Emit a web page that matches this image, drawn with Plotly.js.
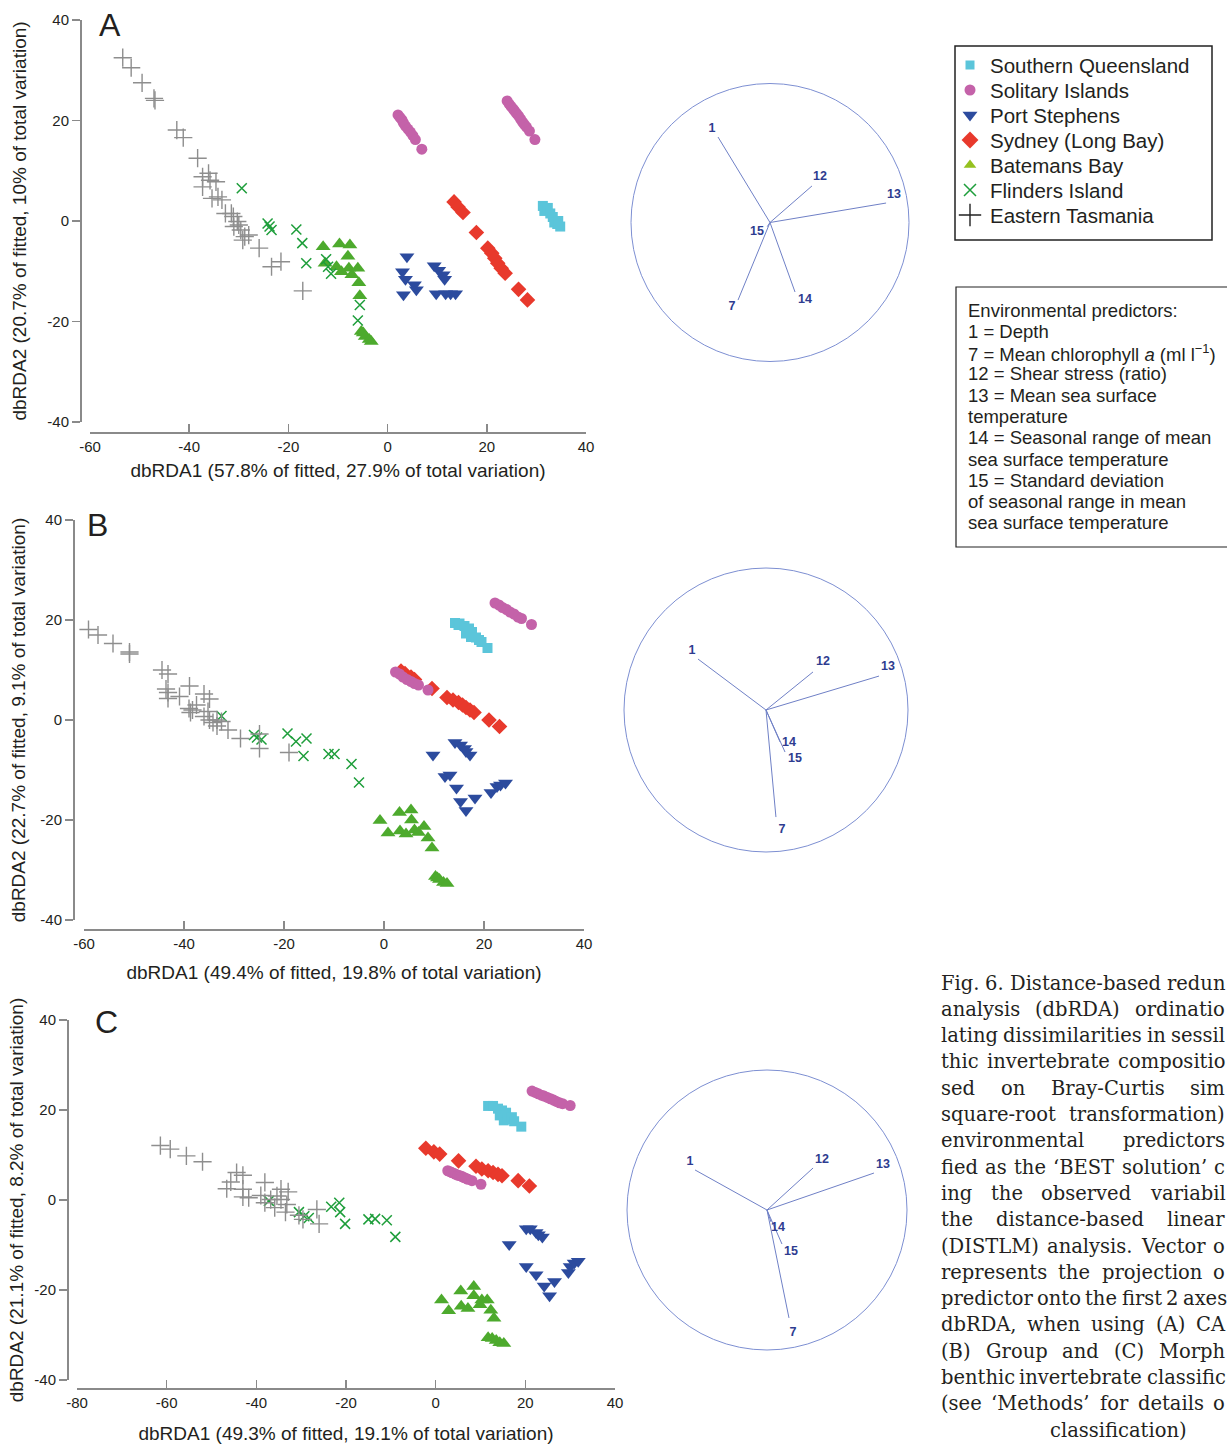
<!DOCTYPE html>
<html><head><meta charset="utf-8">
<script src="https://cdn.plot.ly/plotly-3.0.1.min.js"></script>
<style>html,body{margin:0;padding:0;background:#fff}#chart{width:1227px;height:1444px}</style>
</head><body><div id="chart"></div>
<script>
// ---------------- DATA ----------------
const groupNames = ['Southern Queensland','Solitary Islands','Port Stephens','Sydney (Long Bay)','Batemans Bay','Flinders Island','Eastern Tasmania'];

// Panel A (CAAB)
const A_SQ_X = [31.3, 31.6, 32.3, 32.8, 33.3, 33.6, 34.2, 34.8, 34.4];
const A_SQ_Y = [3.0, 2.0, 2.6, 1.5, 0.8, -0.3, -0.6, -1.1, 0.0];
const A_SI_X = [2.1, 2.5, 2.9, 3.2, 3.6, 4.1, 4.6, 5.1, 5.6, 6.9, 24.1, 24.5, 24.9, 25.3, 25.6, 26.0, 26.4, 26.8, 27.2, 27.6, 28.0, 28.6, 29.7];
const A_SI_Y = [21.1, 20.6, 20.1, 19.5, 18.9, 18.3, 17.7, 17.0, 16.2, 14.3, 23.9, 23.3, 22.8, 22.3, 21.9, 21.4, 20.9, 20.3, 19.7, 19.2, 18.7, 17.9, 16.2];
const A_PS_X = [3.9, 3.0, 3.6, 5.4, 5.8, 3.2, 9.4, 10.3, 11.2, 11.5, 9.8, 11.7, 12.7, 13.7];
const A_PS_Y = [-7.1, -10.1, -11.6, -12.7, -13.7, -14.7, -8.9, -9.8, -10.7, -11.6, -14.5, -14.5, -14.5, -14.5];
const A_SY_X = [13.4, 14.2, 15.2, 17.9, 20.2, 21.0, 21.6, 22.2, 22.9, 23.7, 26.4, 28.2];
const A_SY_Y = [3.8, 2.8, 1.7, -2.3, -5.4, -6.4, -7.4, -8.4, -9.4, -10.4, -13.6, -15.7];
const A_BB_X = [-13.0, -12.6, -9.7, -7.6, -8.0, -10.3, -9.3, -7.8, -7.2, -6.0, -5.8, -5.6, -5.3, -4.9, -4.5, -3.7, -3.3];
const A_BB_Y = [-5.1, -8.4, -4.6, -4.8, -7.0, -9.1, -10.1, -9.4, -10.7, -9.4, -12.3, -14.9, -22.0, -22.3, -23.0, -23.6, -24.0];
const A_FI_X = [-29.4, -24.2, -23.8, -23.4, -18.4, -17.2, -16.4, -12.4, -12.0, -11.4, -5.6, -6.0];
const A_FI_Y = [6.5, -0.5, -1.1, -1.8, -1.7, -4.4, -8.4, -7.6, -9.1, -10.5, -16.7, -19.8];
const A_ET_X = [-53.4, -51.7, -49.5, -47.1, -46.9, -42.5, -41.2, -38.3, -36.1, -37.3, -35.8, -34.6, -37.3, -34.2, -35.4, -33.4, -32.7, -31.5, -31.1, -30.3, -30.0, -31.0, -29.6, -28.8, -28.0, -29.2, -25.9, -23.4, -21.5, -17.1];
const A_ET_Y = [32.5, 30.5, 27.5, 24.4, 24.0, 18.1, 16.6, 12.5, 9.5, 8.8, 8.1, 7.8, 6.8, 4.8, 4.5, 4.2, 1.5, 1.5, 0.9, -0.1, -0.8, -1.1, -1.8, -3.1, -2.8, -3.8, -5.4, -9.1, -8.1, -13.9];

// Panel B (Group)
const B_SQ_X = [14.2, 14.9, 15.1, 16.1, 16.4, 17.0, 17.6, 17.4, 18.4, 19.0, 19.5, 20.7];
const B_SQ_Y = [19.4, 19.0, 19.3, 18.8, 17.3, 18.3, 17.6, 16.6, 16.5, 16.0, 15.6, 14.4];
const B_SI_X = [2.3, 3.1, 3.8, 4.6, 5.4, 6.1, 6.9, 8.8, 22.2, 23.0, 23.7, 24.5, 25.2, 26.0, 26.8, 27.5, 29.5];
const B_SI_Y = [9.6, 9.2, 8.6, 8.1, 7.7, 7.3, 7.0, 6.0, 23.4, 23.0, 22.5, 22.1, 21.6, 21.2, 20.6, 20.3, 19.1];
const B_PS_X = [9.8, 14.2, 15.3, 16.1, 16.4, 17.2, 12.2, 13.2, 14.5, 15.3, 16.4, 18.2, 21.4, 22.6, 23.3, 24.3];
const B_PS_Y = [-7.0, -4.5, -5.0, -5.7, -6.3, -7.0, -11.3, -11.0, -13.6, -16.3, -18.1, -15.6, -14.5, -13.3, -13.0, -12.6];
const B_SY_X = [3.4, 4.2, 5.4, 6.1, 9.6, 12.6, 13.8, 14.9, 15.7, 16.4, 17.2, 18.0, 21.0, 23.1];
const B_SY_Y = [9.8, 9.3, 8.6, 8.1, 6.3, 4.5, 4.0, 3.5, 3.0, 2.5, 2.0, 1.5, 0.0, -1.3];
const B_BB_X = [-0.8, 0.8, 3.1, 3.2, 4.4, 5.4, 5.5, 6.1, 6.9, 8.0, 8.8, 9.6, 10.3, 10.7, 11.1, 11.9, 12.6];
const B_BB_Y = [-20.1, -22.6, -18.5, -22.2, -22.8, -18.0, -20.0, -22.0, -22.5, -21.3, -23.6, -25.6, -31.3, -31.6, -31.9, -32.5, -32.7];
const B_FI_X = [-32.5, -26.0, -25.4, -24.5, -19.3, -17.6, -15.5, -16.1, -11.1, -9.9, -6.5, -5.0];
const B_FI_Y = [0.8, -3.0, -3.5, -3.9, -2.7, -4.3, -3.7, -7.2, -6.8, -6.8, -8.8, -12.5];
const B_ET_X = [-59.1, -57.2, -54.2, -50.9, -50.9, -44.4, -43.2, -38.9, -43.6, -43.2, -43.2, -40.9, -36.0, -34.9, -39.0, -38.3, -37.5, -38.7, -35.2, -36.0, -34.9, -34.2, -33.4, -32.5, -33.4, -31.2, -28.7, -24.9, -24.9, -19.0];
const B_ET_Y = [18.1, 17.0, 15.3, 13.6, 13.2, 10.0, 9.2, 6.8, 6.2, 5.5, 4.3, 4.7, 5.2, 4.2, 2.3, 2.0, 3.0, 1.5, 1.7, 0.7, 0.0, -0.5, 0.0, -0.3, -1.2, -2.0, -3.7, -2.8, -5.7, -6.5];

// Panel C (Morphology)
const C_SQ_X = [11.7, 12.8, 13.9, 14.8, 14.3, 15.2, 15.7, 16.1, 17.0, 17.5, 19.1];
const C_SQ_Y = [20.9, 20.9, 20.3, 19.9, 18.8, 17.7, 19.4, 18.0, 18.4, 17.5, 16.3];
const C_SI_X = [2.7, 3.2, 3.6, 4.1, 4.5, 5.0, 5.4, 5.9, 6.3, 6.8, 7.2, 8.1, 10.1, 21.5, 22.2, 22.9, 23.6, 24.2, 24.9, 25.6, 26.3, 26.9, 27.6, 28.3, 30.0];
const C_SI_Y = [6.5, 6.3, 6.1, 5.9, 5.7, 5.5, 5.4, 5.2, 5.0, 4.8, 4.6, 4.3, 3.5, 24.2, 23.9, 23.6, 23.3, 23.1, 22.8, 22.5, 22.2, 21.9, 21.6, 21.4, 21.0];
const C_PS_X = [16.4, 20.2, 21.1, 22.4, 22.9, 23.8, 20.2, 22.4, 24.2, 25.4, 26.5, 29.6, 30.0, 30.9, 31.8];
const C_PS_Y = [-9.9, -6.4, -6.4, -7.2, -7.7, -8.2, -14.8, -16.6, -19.1, -21.3, -18.1, -16.1, -14.8, -14.0, -13.6];
const C_SY_X = [-2.2, -0.4, 0.9, 5.1, 9.0, 10.3, 11.7, 12.8, 13.9, 14.8, 18.4, 20.9];
const C_SY_Y = [11.5, 10.7, 10.2, 8.7, 7.5, 6.9, 6.5, 6.1, 5.7, 5.4, 4.3, 3.1];
const C_BB_X = [1.3, 2.9, 5.6, 5.7, 7.2, 8.5, 8.5, 9.9, 10.3, 11.5, 12.3, 13.0, 11.7, 12.6, 13.5, 14.3, 15.2];
const C_BB_Y = [-22.2, -24.6, -20.2, -23.6, -24.1, -19.2, -21.3, -23.3, -22.2, -22.2, -24.5, -26.3, -30.6, -30.8, -31.2, -31.7, -31.9];
const C_FI_X = [-37.2, -30.5, -29.3, -28.3, -23.3, -21.5, -21.3, -20.2, -15.0, -13.5, -10.9, -9.0];
const C_FI_Y = [-0.2, -2.7, -3.6, -4.0, -1.5, -0.6, -2.7, -5.3, -4.3, -4.2, -4.5, -8.2];
const C_ET_X = [-61.4, -59.2, -55.6, -52.0, -44.4, -43.0, -45.7, -46.6, -43.0, -43.0, -41.7, -38.1, -39.0, -38.1, -36.8, -35.4, -34.5, -32.9, -34.5, -35.9, -33.2, -33.5, -30.5, -26.5, -26.0, -29.6];
const C_ET_Y = [12.1, 11.3, 9.8, 8.5, 6.1, 5.5, 4.0, 2.5, 2.4, 0.7, 0.5, 3.9, 1.0, -0.6, 0.1, 0.9, 2.4, 1.8, 0.1, -1.7, -1.0, -2.7, -3.4, -2.1, -5.3, -4.3];

// Axis ticks and titles
const xTicksAB = [-60, -40, -20, 0, 20, 40];
const xTicksC = [-80, -60, -40, -20, 0, 20, 40];
const yTicks = [-40, -20, 0, 20, 40];
const xTitles = ['dbRDA1 (57.8% of fitted, 27.9% of total variation)', 'dbRDA1 (49.4% of fitted, 19.8% of total variation)', 'dbRDA1 (49.3% of fitted, 19.1% of total variation)'];
const yTitles = ['dbRDA2 (20.7% of fitted, 10% of total variation)', 'dbRDA2 (22.7% of fitted, 9.1% of total variation)', 'dbRDA2 (21.1% of fitted, 8.2% of total variation)'];
const panelLetters = ['A', 'B', 'C'];

// Vector overlays (projection of predictors, unit circle)
const vecLabels = ['1', '7', '12', '13', '14', '15'];
const A_VEC_X = [-0.374, -0.23, 0.302, 0.835, 0.18, -0.02];
const A_VEC_Y = [0.615, -0.558, 0.263, 0.14, -0.5, -0.03];
const A_LAB_X = [-0.417, -0.273, 0.36, 0.892, 0.252, -0.094];
const A_LAB_Y = [0.673, -0.608, 0.327, 0.198, -0.557, -0.068];
const B_VEC_X = [-0.479, 0.07, 0.331, 0.796, 0.099, 0.134];
const B_VEC_Y = [0.359, -0.754, 0.268, 0.239, -0.225, -0.296];
const B_LAB_X = [-0.521, 0.113, 0.401, 0.859, 0.162, 0.204];
const B_LAB_Y = [0.415, -0.845, 0.338, 0.303, -0.232, -0.345];
const C_VEC_X = [-0.514, 0.157, 0.329, 0.764, 0.029, 0.107];
const C_VEC_Y = [0.286, -0.771, 0.3, 0.264, -0.086, -0.243];
const C_LAB_X = [-0.55, 0.186, 0.393, 0.829, 0.079, 0.171];
const C_LAB_Y = [0.343, -0.879, 0.357, 0.321, -0.129, -0.3];

// Text blocks
const predictorLines = ['Environmental predictors:', '1 = Depth', '7 = Mean chlorophyll <i>a</i> (ml l<sup>−1</sup>)', '12 = Shear stress (ratio)', '13 = Mean sea surface', 'temperature', '14 = Seasonal range of mean', 'sea surface temperature', '15 = Standard deviation', 'of seasonal range in mean', 'sea surface temperature'];
const captionLines = [
  'Fig. 6. Distance-based redun',
  'analysis (dbRDA) ordinatio',
  'lating dissimilarities in sessil',
  'thic invertebrate compositio',
  'sed on Bray-Curtis sim',
  'square-root transformation)',
  'environmental predictors',
  'fied as the ‘BEST solution’ c',
  'ing the observed variabil',
  'the distance-based linear',
  '(DISTLM) analysis. Vector o',
  'represents the projection o',
  'predictor onto the first 2 axes',
  'dbRDA, when using (A) CA',
  '(B) Group and (C) Morph',
  'benthic invertebrate classific',
  '(see ‘Methods’ for details o',
  'classification)'];

// ---------------- LAYOUT / STYLE ----------------
const W = 1227, H = 1444;
const px = v => v / W;
const py = v => 1 - v / H;
const SANS = 'Liberation Sans, Arial, sans-serif';
const SERIF = 'DejaVu Serif, serif';
const AXC = '#8a8a8a';
const TXT = '#231f20';

const styles = [
  {symbol: 'square', size: 10, color: '#5bc5da', key: '#5bc5da', keySize: 9},
  {symbol: 'circle', size: 11, color: '#c462a9', key: '#c462a9', keySize: 11},
  {symbol: 'triangle-down', size: 13, color: '#2c4b9e', key: '#2c4b9e', keySize: 13},
  {symbol: 'diamond', size: 12, color: '#e8392c', key: '#e8392c', keySize: 13},
  {symbol: 'triangle-up', size: 13, color: '#4daa2d', key: '#95c11f', keySize: 11},
  {symbol: 'x-thin', size: 10, color: '#1e9e3b', key: '#1e9e3b', keySize: 12, thin: true, lw: 1.5},
  {symbol: 'cross-thin', size: 13, color: '#8e8e8e', key: '#222222', keySize: 16, thin: true, lw: 1.4}
];
const drawOrder = [0, 2, 3, 1, 4, 5, 6];

function markerFor(s, color, size) {
  const m = {symbol: s.symbol, size, color};
  m.line = s.thin ? {color, width: s.lw} : {width: 0};
  return m;
}

const panels = [
  {xa: 'x', ya: 'y', data: [[A_SQ_X, A_SQ_Y], [A_SI_X, A_SI_Y], [A_PS_X, A_PS_Y], [A_SY_X, A_SY_Y], [A_BB_X, A_BB_Y], [A_FI_X, A_FI_Y], [A_ET_X, A_ET_Y]]},
  {xa: 'x2', ya: 'y2', data: [[B_SQ_X, B_SQ_Y], [B_SI_X, B_SI_Y], [B_PS_X, B_PS_Y], [B_SY_X, B_SY_Y], [B_BB_X, B_BB_Y], [B_FI_X, B_FI_Y], [B_ET_X, B_ET_Y]]},
  {xa: 'x3', ya: 'y3', data: [[C_SQ_X, C_SQ_Y], [C_SI_X, C_SI_Y], [C_PS_X, C_PS_Y], [C_SY_X, C_SY_Y], [C_BB_X, C_BB_Y], [C_FI_X, C_FI_Y], [C_ET_X, C_ET_Y]]}
];

const traces = [];
panels.forEach(p => {
  drawOrder.forEach(g => {
    const s = styles[g];
    traces.push({
      type: 'scatter', mode: 'markers', x: p.data[g][0], y: p.data[g][1],
      xaxis: p.xa, yaxis: p.ya, name: groupNames[g], showlegend: false,
      marker: markerFor(s, s.color, s.size), cliponaxis: false, hoverinfo: 'skip'
    });
  });
});

// key (legend) drawn in its own small subplot: one symbol per group, row = group index
groupNames.forEach((name, g) => {
  const s = styles[g];
  traces.push({type: 'scatter', mode: 'markers', x: [0], y: [g], xaxis: 'x7', yaxis: 'y7', name,
    showlegend: false, hoverinfo: 'skip', cliponaxis: false, marker: markerFor(s, s.key, s.keySize)});
});

const vecSets = [
  {xa: 'x4', ya: 'y4', vx: A_VEC_X, vy: A_VEC_Y, lx: A_LAB_X, ly: A_LAB_Y},
  {xa: 'x5', ya: 'y5', vx: B_VEC_X, vy: B_VEC_Y, lx: B_LAB_X, ly: B_LAB_Y},
  {xa: 'x6', ya: 'y6', vx: C_VEC_X, vy: C_VEC_Y, lx: C_LAB_X, ly: C_LAB_Y}
];
vecSets.forEach(v => {
  traces.push({
    type: 'scatter', mode: 'lines', xaxis: v.xa, yaxis: v.ya, showlegend: false, hoverinfo: 'skip',
    x: v.vx.flatMap(val => [0, val, null]), y: v.vy.flatMap(val => [0, val, null]),
    line: {color: '#6f80c6', width: 1}
  });
  traces.push({
    type: 'scatter', mode: 'text', xaxis: v.xa, yaxis: v.ya, showlegend: false, hoverinfo: 'skip',
    x: v.lx, y: v.ly, text: vecLabels.map(t => '<b>' + t + '</b>'), cliponaxis: false,
    textfont: {family: SANS, size: 12.5, color: '#2e3c90'}
  });
});

function xAxisDef(x0, x1, lineY, vals, title, standoff) {
  return {
    domain: [px(x0), px(x1)], range: [vals[0], vals[vals.length - 1]], anchor: 'free', position: py(lineY),
    showline: true, linecolor: AXC, linewidth: 1.5, ticks: 'inside', ticklen: 8, tickwidth: 1.5, tickcolor: AXC,
    tickvals: vals, ticktext: vals.map(String), tickfont: {family: SANS, size: 15, color: TXT},
    showgrid: false, zeroline: false, fixedrange: true,
    title: {text: title, font: {family: SANS, size: 19, color: TXT}, standoff}
  };
}
function yAxisDef(yTop, yBot, lineX, vals, title, standoff) {
  return {
    domain: [py(yBot), py(yTop)], range: [vals[0], vals[vals.length - 1]], anchor: 'free', position: px(lineX),
    showline: true, linecolor: AXC, linewidth: 1.5, ticks: 'outside', ticklen: 8, tickwidth: 1.5, tickcolor: AXC,
    tickvals: vals, ticktext: vals.map(String), tickfont: {family: SANS, size: 15, color: TXT},
    showgrid: false, zeroline: false, fixedrange: true,
    title: {text: title, font: {family: SANS, size: 19, color: TXT}, standoff}
  };
}
function circAxis(c0, c1, isX, anchor) {
  return {domain: isX ? [px(c0), px(c1)] : [py(c1), py(c0)], range: [-1.05, 1.05], visible: false, anchor, fixedrange: true};
}

// circle geometry (center px, radius px)
const circles = [{cx: 770, cy: 222.5, r: 139}, {cx: 766, cy: 710, r: 142}, {cx: 767, cy: 1210, r: 140}];

// key box geometry (px)
const key = {left: 955, right: 1212, top: 46, bottom: 240, firstRow: 65, rowGap: 25, symX: 970, textX: 988};

const layout = {
  width: W, height: H, margin: {l: 0, r: 0, t: 0, b: 0}, paper_bgcolor: '#fff', plot_bgcolor: 'rgba(0,0,0,0)',
  font: {family: SANS, color: TXT}, showlegend: false,
  xaxis: xAxisDef(90, 586, 432, xTicksAB, xTitles[0], 10),
  yaxis: yAxisDef(20, 422, 80, yTicks, yTitles[0], 14),
  xaxis2: xAxisDef(84, 584, 929, xTicksAB, xTitles[1], 15),
  yaxis2: yAxisDef(520, 920, 73, yTicks, yTitles[1], 8),
  xaxis3: xAxisDef(77, 615, 1388, xTicksC, xTitles[2], 19),
  yaxis3: yAxisDef(1020, 1380, 67, yTicks, yTitles[2], 4),
  xaxis7: {domain: [px(key.left), px(key.right)], anchor: 'y7', visible: false, fixedrange: true,
           range: [key.left - key.symX, key.right - key.symX]},
  yaxis7: {domain: [py(key.bottom), py(key.top)], anchor: 'x7', visible: false, fixedrange: true,
           range: [(key.bottom - key.firstRow) / key.rowGap, (key.top - key.firstRow) / key.rowGap]},
  shapes: [], annotations: []
};
circles.forEach((c, i) => {
  const h = c.r * 1.05;
  layout['xaxis' + (4 + i)] = circAxis(c.cx - h, c.cx + h, true, 'y' + (4 + i));
  layout['yaxis' + (4 + i)] = circAxis(c.cy - h, c.cy + h, false, 'x' + (4 + i));
  layout.shapes.push({type: 'circle', xref: 'x' + (4 + i), yref: 'y' + (4 + i), x0: -1, x1: 1, y0: -1, y1: 1,
    line: {color: '#7d8fd2', width: 1}});
});

// key box + labels
layout.shapes.push({type: 'rect', xref: 'paper', yref: 'paper', x0: px(key.left), x1: px(key.right), y0: py(key.bottom), y1: py(key.top),
  line: {color: '#222', width: 1.5}, fillcolor: 'rgba(0,0,0,0)'});
groupNames.forEach((name, g) => {
  layout.annotations.push({xref: 'x7', yref: 'y7', x: key.textX - key.symX, y: g, text: name, showarrow: false,
    xanchor: 'left', yanchor: 'middle', font: {family: SANS, size: 20.5, color: TXT}});
});

// panel letters
[[110, 25], [97, 525], [106, 1022]].forEach((pos, i) => {
  layout.annotations.push({xref: 'paper', yref: 'paper', x: px(pos[0]), y: py(pos[1]), text: panelLetters[i],
    showarrow: false, font: {family: SANS, size: 32, color: TXT}, xanchor: 'center', yanchor: 'middle'});
});

// predictor box
layout.shapes.push({type: 'rect', xref: 'paper', yref: 'paper', x0: px(956), x1: 1.05, y0: py(547), y1: py(287),
  line: {color: '#222', width: 1.2}, fillcolor: 'rgba(0,0,0,0)'});
predictorLines.forEach((t, i) => {
  layout.annotations.push({xref: 'paper', yref: 'paper', x: px(966), y: py(310 + i * 21.3), text: t, showarrow: false,
    xanchor: 'left', yanchor: 'middle', font: {family: SANS, size: 18.5, color: TXT}});
});

// caption (justified, word by word)
const capSize = 19.5;
const ctx = document.createElement('canvas').getContext('2d');
ctx.font = capSize + 'px "DejaVu Serif"';
const capLeft = 940, capRight = 1224;
captionLines.forEach((line, i) => {
  const y = py(983 + i * 26.3);
  if (i === captionLines.length - 1) {
    layout.annotations.push({xref: 'paper', yref: 'paper', x: px(1048), y, text: line, showarrow: false,
      xanchor: 'left', yanchor: 'middle', font: {family: SERIF, size: capSize, color: TXT}});
    return;
  }
  const words = line.split(' ');
  const widths = words.map(w => ctx.measureText(w).width);
  const total = widths.reduce((a, b) => a + b, 0);
  const spaceW = ctx.measureText(' ').width;
  let gap = words.length > 1 ? (capRight - capLeft - total) / (words.length - 1) : 0;
  gap = Math.max(gap, spaceW * 0.7);
  let x = capLeft;
  words.forEach((w, k) => {
    layout.annotations.push({xref: 'paper', yref: 'paper', x: px(x - 1), y, text: w, showarrow: false,
      xanchor: 'left', yanchor: 'middle', font: {family: SERIF, size: capSize, color: TXT}});
    x += widths[k] + gap;
  });
});

Plotly.newPlot('chart', traces, layout, {displayModeBar: false, staticPlot: true});
</script></body></html>
